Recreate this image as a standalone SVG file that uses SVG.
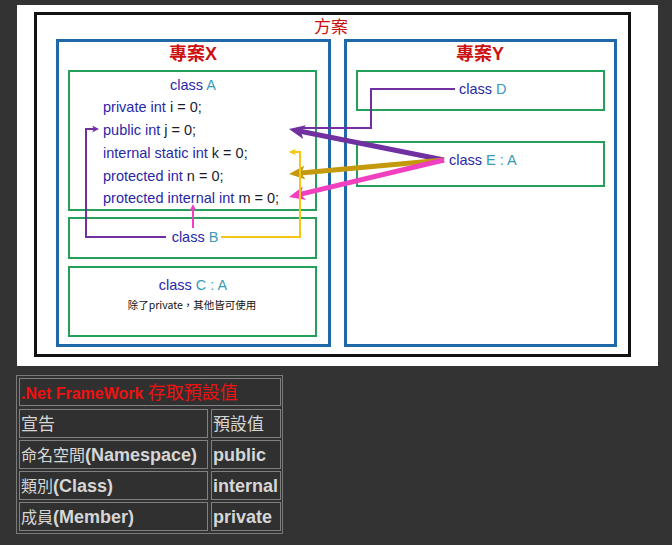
<svg xmlns="http://www.w3.org/2000/svg" width="672" height="545" viewBox="0 0 672 545">
<style>
.proj{fill:none;stroke:#1f69a8;stroke-width:3}
.cls{fill:none;stroke:#24a05a;stroke-width:2}
.title{font-family:"Liberation Sans","Noto Sans CJK TC",sans-serif;fill:#cc1111;text-anchor:middle}
.code{font-family:"Liberation Sans","Noto Sans CJK TC",sans-serif;font-size:14.5px;fill:#2828a8}
.id{fill:#1c1c2c}
.tl{fill:#3b9ab8}
.cell{fill:#303030;stroke:#808080;stroke-width:1}
.tt{font-family:"Liberation Sans","Noto Sans CJK TC",sans-serif;font-size:18px;font-weight:bold;fill:#d6d6d6}
.cjk{font-weight:normal;font-size:16px}
</style>
<defs>
<marker id="ahPurple" markerUnits="userSpaceOnUse" viewBox="0 0 16 14" markerWidth="16" markerHeight="14" refX="7" refY="7" orient="auto"><path d="M0,0 L16,7 L0,14 L4,7 Z" fill="#7030a0"/></marker>
<marker id="ahGold" markerUnits="userSpaceOnUse" viewBox="0 0 16 14" markerWidth="16" markerHeight="14" refX="7" refY="7" orient="auto"><path d="M0,0 L16,7 L0,14 L4,7 Z" fill="#c49a0c"/></marker>
<marker id="ahPink" markerUnits="userSpaceOnUse" viewBox="0 0 16 14" markerWidth="16" markerHeight="14" refX="7" refY="7" orient="auto"><path d="M0,0 L16,7 L0,14 L4,7 Z" fill="#f040c0"/></marker>
<marker id="ahPurpleS" markerUnits="userSpaceOnUse" viewBox="0 0 7 7" markerWidth="7" markerHeight="7" refX="3" refY="3.5" orient="auto"><path d="M0,0 L7,3.5 L0,7 L2,3.5 Z" fill="#7030a0"/></marker>
<marker id="ahYellowS" markerUnits="userSpaceOnUse" viewBox="0 0 7 7" markerWidth="7" markerHeight="7" refX="3" refY="3.5" orient="auto"><path d="M0,0 L7,3.5 L0,7 L2,3.5 Z" fill="#f5c518"/></marker>
<marker id="ahPinkS" markerUnits="userSpaceOnUse" viewBox="0 0 7 7" markerWidth="7" markerHeight="7" refX="3" refY="3.5" orient="auto"><path d="M0,0 L7,3.5 L0,7 L2,3.5 Z" fill="#f040c0"/></marker>
</defs>
<rect x="0" y="0" width="672" height="545" fill="#333333"/>
<rect x="17" y="5" width="641" height="361" fill="#ffffff"/>
<rect x="35.5" y="13.5" width="594" height="342" fill="none" stroke="#111" stroke-width="3"/>
<text class="title" x="331" y="33" font-size="17">方案</text>

<g id="projectX">
<rect class="proj" x="57.5" y="40.5" width="272" height="305"/>
<text class="title" x="193" y="60" font-size="18" font-weight="bold">專案X</text>
</g>
<g id="projectY">
<rect class="proj" x="345.5" y="40.5" width="270" height="305"/>
<text class="title" x="480" y="60" font-size="18" font-weight="bold">專案Y</text>
</g>

<g id="classA">
<rect class="cls" x="69" y="71" width="247" height="139"/>
<text class="code" x="193" y="90" text-anchor="middle">class <tspan class="tl">A</tspan></text>
<text class="code" x="103" y="112">private int <tspan class="id">i = 0;</tspan></text>
<text class="code" x="103" y="135">public int <tspan class="id">j = 0;</tspan></text>
<text class="code" x="103" y="158">internal static int <tspan class="id">k = 0;</tspan></text>
<text class="code" x="103" y="181">protected int <tspan class="id">n = 0;</tspan></text>
<text class="code" x="103" y="203">protected internal int <tspan class="id">m = 0;</tspan></text>
</g>
<g id="classB">
<rect class="cls" x="69" y="218" width="247" height="40"/>
<text class="code" x="195" y="242" text-anchor="middle">class <tspan class="tl">B</tspan></text>
</g>
<g id="classC">
<rect class="cls" x="69" y="267" width="247" height="69"/>
<text class="code" x="193" y="290" text-anchor="middle">class <tspan class="tl">C : A</tspan></text>
<text x="192" y="309" text-anchor="middle" font-family="'Noto Sans CJK TC','Liberation Sans',sans-serif" font-size="10.5" fill="#111">除了private，其他皆可使用</text>
</g>
<g id="classD">
<rect class="cls" x="357" y="71" width="247" height="39"/>
<text class="code" x="459" y="94">class <tspan class="tl">D</tspan></text>
</g>
<g id="classE">
<rect class="cls" x="357" y="142" width="247" height="44"/>
<text class="code" x="449" y="165">class <tspan class="tl">E : A</tspan></text>
</g>

<g id="connectors" fill="none">
<polyline points="455,89 371,89 371,128 297,128" stroke="#7030a0" stroke-width="2"/>
<line x1="444" y1="160" x2="297.8" y2="130.8" stroke="#7030a0" stroke-width="5" marker-end="url(#ahPurple)"/>
<line x1="444" y1="160" x2="298" y2="173.2" stroke="#c49a0c" stroke-width="5" marker-end="url(#ahGold)"/>
<line x1="444" y1="160" x2="297.7" y2="194.9" stroke="#f040c0" stroke-width="5" marker-end="url(#ahPink)"/>
<polyline points="221,237 300,237 300,152 293,152" stroke="#f5c518" stroke-width="2" marker-end="url(#ahYellowS)"/>
<polyline points="166,237 86,237 86,129 95,129" stroke="#7030a0" stroke-width="2" marker-end="url(#ahPurpleS)"/>
<line x1="193" y1="228" x2="193" y2="208" stroke="#f040c0" stroke-width="2" marker-end="url(#ahPinkS)"/>
</g>

<g id="table">
<rect x="16.5" y="375.5" width="266" height="158" fill="#323232" stroke="#7a7a7a"/>
<rect class="cell" x="19.5" y="378.5" width="261" height="27"/>
<rect class="cell" x="19.5" y="409.5" width="188" height="28"/>
<rect class="cell" x="211.5" y="409.5" width="69" height="28"/>
<rect class="cell" x="19.5" y="440.5" width="188" height="28"/>
<rect class="cell" x="211.5" y="440.5" width="69" height="28"/>
<rect class="cell" x="19.5" y="471.5" width="188" height="28"/>
<rect class="cell" x="211.5" y="471.5" width="69" height="28"/>
<rect class="cell" x="19.5" y="502.5" width="188" height="28"/>
<rect class="cell" x="211.5" y="502.5" width="69" height="28"/>
<text x="21" y="399" font-family="'Liberation Sans','Noto Sans CJK TC',sans-serif" font-size="16" font-weight="bold" fill="#ee1111">.Net FrameWork <tspan font-size="18" font-weight="normal">存取預設值</tspan></text>
<text class="tt" x="21" y="430"><tspan class="cjk" style="font-size:17px">宣告</tspan></text>
<text class="tt" x="213" y="430"><tspan class="cjk" style="font-size:17px">預設值</tspan></text>
<text class="tt" x="21" y="461"><tspan class="cjk">命名空間</tspan>(Namespace)</text>
<text class="tt" x="213" y="461">public</text>
<text class="tt" x="21" y="492"><tspan class="cjk">類別</tspan>(Class)</text>
<text class="tt" x="213" y="492">internal</text>
<text class="tt" x="21" y="523"><tspan class="cjk">成員</tspan>(Member)</text>
<text class="tt" x="213" y="523">private</text>
</g>
</svg>
